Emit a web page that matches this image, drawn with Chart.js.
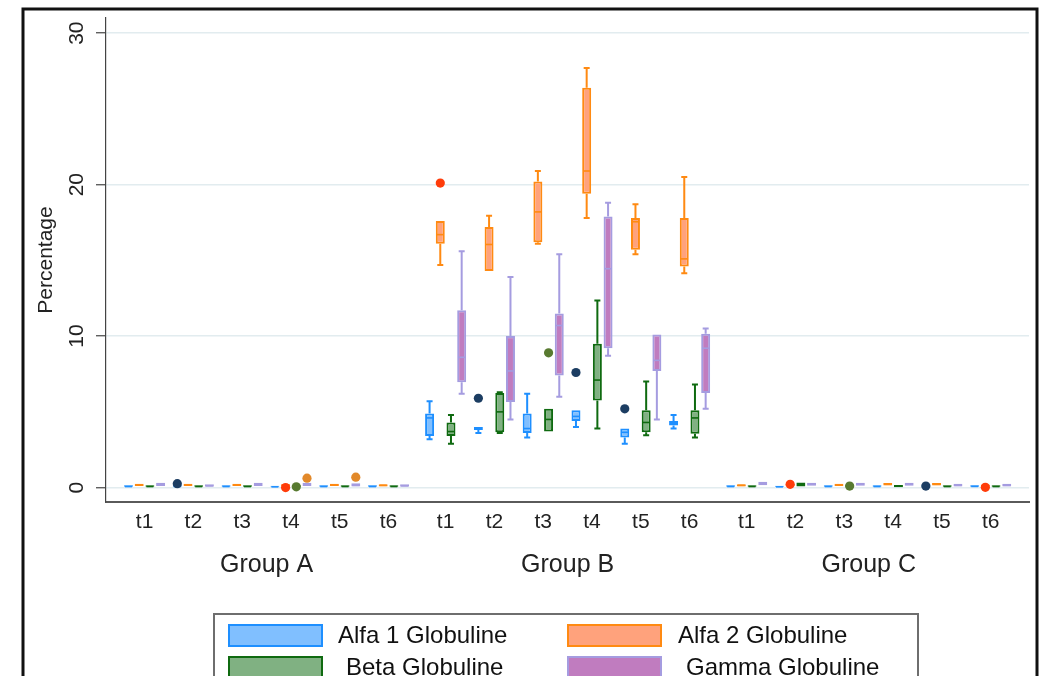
<!DOCTYPE html>
<html><head><meta charset="utf-8">
<script src="https://cdn.jsdelivr.net/npm/chart.js@4/dist/chart.umd.min.js"></script>
<style>html,body{margin:0;padding:0;background:#fff;}canvas{display:block;}</style>
</head><body>
<canvas id="c" width="1040" height="676"></canvas>
<script>
// ---------- data ----------
const timeLabels = ['t1','t2','t3','t4','t5','t6'];
const groupLabels = ['Group A','Group B','Group C'];
const yTickValues = [0, 10, 20, 30];
const seriesNames = ['Alfa 1 Globuline','Alfa 2 Globuline','Beta Globuline','Gamma Globuline'];

// 18 entries each: Group A t1..t6, Group B t1..t6, Group C t1..t6
const alfa1Min = [0,0,0,0,0,0, 3.2,3.6,3.3,4.0,2.9,3.9, 0,0,0,0,0,0];
const alfa1Q1  = [0,0,0,0,0,0, 3.4,3.8,3.6,4.4,3.3,4.1, 0,0,0,0,0,0];
const alfa1Med = [0.07,0.07,0.07,0.05,0.07,0.07, 4.6,3.9,3.9,4.7,3.65,4.25, 0.07,0.05,0.07,0.07,0.07,0.08];
const alfa1Q3  = [0.15,0.15,0.15,0.12,0.15,0.15, 4.9,4.0,4.9,5.1,3.9,4.4, 0.15,0.12,0.15,0.15,0.15,0.16];
const alfa1Max = [0.15,0.15,0.15,0.12,0.15,0.15, 5.7,4.0,6.2,5.1,3.9,4.8, 0.15,0.12,0.15,0.15,0.15,0.16];
const alfa1Out = [[1,0.26],[7,5.9],[9,7.6],[10,5.2],[16,0.1]];

const alfa2Min = [0.1,0.1,0.1,0.1,0.1,0.08, 14.7,14.3,16.1,17.8,15.4,14.15, 0.08,0.1,0.1,0.14,0.14,0.05];
const alfa2Q1  = [0.1,0.1,0.1,0.1,0.1,0.08, 16.1,14.3,16.2,19.4,15.7,14.6, 0.08,0.1,0.1,0.14,0.14,0.05];
const alfa2Med = [0.18,0.18,0.18,0.16,0.18,0.15, 16.7,16.05,18.2,20.9,17.55,15.1, 0.15,0.18,0.18,0.22,0.22,0.12];
const alfa2Q3  = [0.26,0.26,0.26,0.22,0.26,0.22, 17.6,17.2,20.2,26.4,17.8,17.8, 0.22,0.26,0.26,0.3,0.3,0.2];
const alfa2Max = [0.26,0.26,0.26,0.22,0.26,0.22, 17.6,17.95,20.9,27.7,18.7,20.5, 0.22,0.26,0.26,0.3,0.3,0.2];
const alfa2Out = [[6,20.1],[3,0.0],[13,0.22],[17,0.02]];

const betaMin = [0,0,0,0,0,0, 2.9,3.6,3.7,3.9,3.45,3.3, 0,0.07,0,0.02,0,0];
const betaQ1  = [0,0,0,0,0,0, 3.4,3.65,3.7,5.75,3.65,3.55, 0,0.07,0,0.02,0,0];
const betaMed = [0.07,0.07,0.07,0.07,0.07,0.07, 3.7,5.0,4.5,7.1,4.3,4.6, 0.07,0.2,0.07,0.1,0.07,0.07];
const betaQ3  = [0.15,0.15,0.15,0.15,0.15,0.15, 4.3,6.25,5.2,9.5,5.1,5.1, 0.15,0.33,0.15,0.18,0.15,0.15];
const betaMax = [0.15,0.15,0.15,0.15,0.15,0.15, 4.8,6.3,5.2,12.35,7.0,6.8, 0.15,0.33,0.15,0.18,0.15,0.15];
const betaOut = [[3,0.05],[8,8.9],[14,0.1]];

const gammaMin = [0.1,0.05,0.1,0.1,0.08,0.05, 6.2,4.5,6.0,8.7,4.5,5.2, 0.15,0.12,0.12,0.12,0.08,0.08];
const gammaQ1  = [0.1,0.05,0.1,0.1,0.08,0.05, 6.95,5.65,7.4,9.2,7.7,6.25, 0.15,0.12,0.12,0.12,0.08,0.08];
const gammaMed = [0.2,0.12,0.2,0.2,0.15,0.12, 8.6,7.7,10.7,14.45,8.4,9.2, 0.25,0.22,0.22,0.22,0.15,0.15];
const gammaQ3  = [0.32,0.22,0.32,0.32,0.28,0.22, 11.7,10.0,11.5,17.9,10.1,10.15, 0.38,0.32,0.32,0.32,0.26,0.26];
const gammaMax = [0.32,0.22,0.32,0.32,0.28,0.22, 15.6,13.9,15.4,18.8,10.1,10.5, 0.38,0.32,0.32,0.32,0.26,0.26];
const gammaOut = [[3,0.62],[4,0.69]];

// ---------- styles ----------
const FONT = '"Liberation Sans", Arial, Helvetica, sans-serif';
const styles = [
  {stroke:'#1e8fff', fill:'#80bfff', outlier:'#1c3d62'},
  {stroke:'#ff8a12', fill:'#ffa27c', outlier:'#ff3c0a'},
  {stroke:'#0f6a10', fill:'#80b182', outlier:'#587a30'},
  {stroke:'#a59ce0', fill:'#c07cbf', outlier:'#e2892a'}
];
const GROUP_GAP = 0.17;
const catLabels = [];
const catPos = [];
groupLabels.forEach((g, gi) => timeLabels.forEach((t, ti) => {
  catLabels.push(t);
  catPos.push(gi * (6 + GROUP_GAP) + ti);
}));
const groupPos = groupLabels.map((g, gi) => gi * (6 + GROUP_GAP) + 2.5);
const X_MIN = -0.79, X_MAX = 18.125;

const series = [
  {min:alfa1Min,q1:alfa1Q1,med:alfa1Med,q3:alfa1Q3,max:alfa1Max,out:alfa1Out},
  {min:alfa2Min,q1:alfa2Q1,med:alfa2Med,q3:alfa2Q3,max:alfa2Max,out:alfa2Out},
  {min:betaMin,q1:betaQ1,med:betaMed,q3:betaQ3,max:betaMax,out:betaOut},
  {min:gammaMin,q1:gammaQ1,med:gammaMed,q3:gammaQ3,max:gammaMax,out:gammaOut}
];

const datasets = series.map((s, k) => ({
  type: 'bar',
  label: seriesNames[k],
  data: catPos.map((x, i) => ({x: x, y: [s.q1[i], s.q3[i]]})),
  backgroundColor: styles[k].fill,
  borderColor: styles[k].stroke,
  borderWidth: 2,
  borderSkipped: false,
  xAxisID: 'x', yAxisID: 'y'
}));

// whiskers, medians, outliers
const boxPlugin = {
  id: 'boxparts',
  afterDatasetsDraw(chart) {
    const ctx = chart.ctx, y = chart.scales.y;
    series.forEach((s, k) => {
      const meta = chart.getDatasetMeta(k);
      ctx.save();
      ctx.strokeStyle = styles[k].stroke;
      meta.data.forEach((bar, i) => {
        const cx = bar.x, hw = bar.width / 2;
        const pMin = y.getPixelForValue(s.min[i]), pQ1 = y.getPixelForValue(s.q1[i]);
        const pQ3 = y.getPixelForValue(s.q3[i]), pMax = y.getPixelForValue(s.max[i]);
        const pMed = y.getPixelForValue(s.med[i]);
        ctx.lineWidth = 2;
        ctx.beginPath();
        if (pMax < pQ3 - 0.5) {
          ctx.moveTo(cx, pQ3); ctx.lineTo(cx, pMax);
          ctx.moveTo(cx - 3, pMax); ctx.lineTo(cx + 3, pMax);
        }
        if (pMin > pQ1 + 0.5) {
          ctx.moveTo(cx, pQ1); ctx.lineTo(cx, pMin);
          ctx.moveTo(cx - 3, pMin); ctx.lineTo(cx + 3, pMin);
        }
        ctx.stroke();
        ctx.lineWidth = 1.6;
        ctx.beginPath();
        ctx.moveTo(cx - hw + 1, pMed); ctx.lineTo(cx + hw - 1, pMed);
        ctx.stroke();
      });
      ctx.fillStyle = styles[k].outlier;
      s.out.forEach(([i, v]) => {
        const bar = meta.data[i];
        ctx.beginPath();
        ctx.arc(bar.x, y.getPixelForValue(v), 4.6, 0, Math.PI * 2);
        ctx.fill();
      });
      ctx.restore();
    });
  }
};

// rotated y labels, y title, legend, outer frame
const decoPlugin = {
  id: 'deco',
  afterDraw(chart) {
    const ctx = chart.ctx, y = chart.scales.y;
    ctx.save();
    ctx.fillStyle = '#222';
    ctx.textAlign = 'center';
    ctx.textBaseline = 'middle';
    ctx.font = '21px ' + FONT;
    yTickValues.forEach(v => {
      ctx.save();
      ctx.translate(77, y.getPixelForValue(v));
      ctx.rotate(-Math.PI / 2);
      ctx.fillText(String(v), 0, 0);
      ctx.restore();
    });
    ctx.save();
    ctx.translate(46, 260);
    ctx.rotate(-Math.PI / 2);
    ctx.font = '21px ' + FONT;
    ctx.fillText('Percentage', 0, 0);
    ctx.restore();

    // legend
    ctx.strokeStyle = '#6e6e6e';
    ctx.lineWidth = 2;
    ctx.strokeRect(214, 614, 704, 100);
    const colX = [228, 567], rowY = [624, 656], textX = [[338, 678], [346, 686]];
    ctx.textAlign = 'left';
    ctx.font = '24px ' + FONT;
    chart.data.datasets.forEach((ds, k) => {
      const r = Math.floor(k / 2), c = k % 2;
      ctx.fillStyle = ds.backgroundColor;
      ctx.fillRect(colX[c], rowY[r], 95, 23);
      ctx.strokeStyle = ds.borderColor;
      ctx.lineWidth = 2;
      ctx.strokeRect(colX[c] + 1, rowY[r] + 1, 93, 21);
      ctx.fillStyle = '#111';
      ctx.fillText(ds.label, textX[r][c], rowY[r] + 12);
    });

    // outer frame
    ctx.strokeStyle = '#111';
    ctx.lineWidth = 3;
    ctx.strokeRect(23, 9, 1014, 700);
    ctx.restore();
  }
};

new Chart(document.getElementById('c'), {
  type: 'bar',
  data: {datasets},
  plugins: [boxPlugin, decoPlugin],
  options: {
    responsive: false,
    animation: false,
    devicePixelRatio: 1,
    layout: {padding: {left: 0, right: 11, top: 18, bottom: 88}},
    plugins: {legend: {display: false}, tooltip: {enabled: false}},
    datasets: {bar: {categoryPercentage: 0.877, barPercentage: 0.84}},
    scales: {
      x: {
        type: 'linear', position: 'bottom', min: X_MIN, max: X_MAX, bounds: 'data', offset: false, weight: 0,
        grid: {display: false, drawTicks: false, offset: false},
        border: {display: true, color: '#5a5a5a', width: 2},
        ticks: {autoSkip: false, maxRotation: 0, minRotation: 0, padding: 8, color: '#222',
                font: {size: 21, family: FONT}, callback: (v, i) => catLabels[i]},
        afterBuildTicks: s => { s.ticks = catPos.map(v => ({value: v})); },
        afterFit: s => { s.height = 40; }
      },
      x2: {
        type: 'linear', position: 'bottom', min: X_MIN, max: X_MAX, bounds: 'data', offset: false, weight: 1,
        grid: {display: false, drawTicks: false, offset: false},
        border: {display: false},
        ticks: {autoSkip: false, maxRotation: 0, minRotation: 0, padding: 8, color: '#222',
                font: {size: 25, family: FONT}, callback: (v, i) => groupLabels[i]},
        afterBuildTicks: s => { s.ticks = groupPos.map(v => ({value: v})); },
        afterFit: s => { s.height = 46; }
      },
      y: {
        type: 'linear', position: 'left', min: -0.95, max: 31, bounds: 'data',
        grid: {color: '#e2ecef', lineWidth: 1.5, drawTicks: true, tickLength: 10, tickColor: '#444', tickWidth: 1.2},
        border: {display: true, color: '#444', width: 1.2},
        ticks: {display: false},
        afterBuildTicks: s => { s.ticks = yTickValues.map(v => ({value: v})); },
        afterFit: s => { s.width = 106; }
      }
    }
  }
});
</script>
</body></html>
